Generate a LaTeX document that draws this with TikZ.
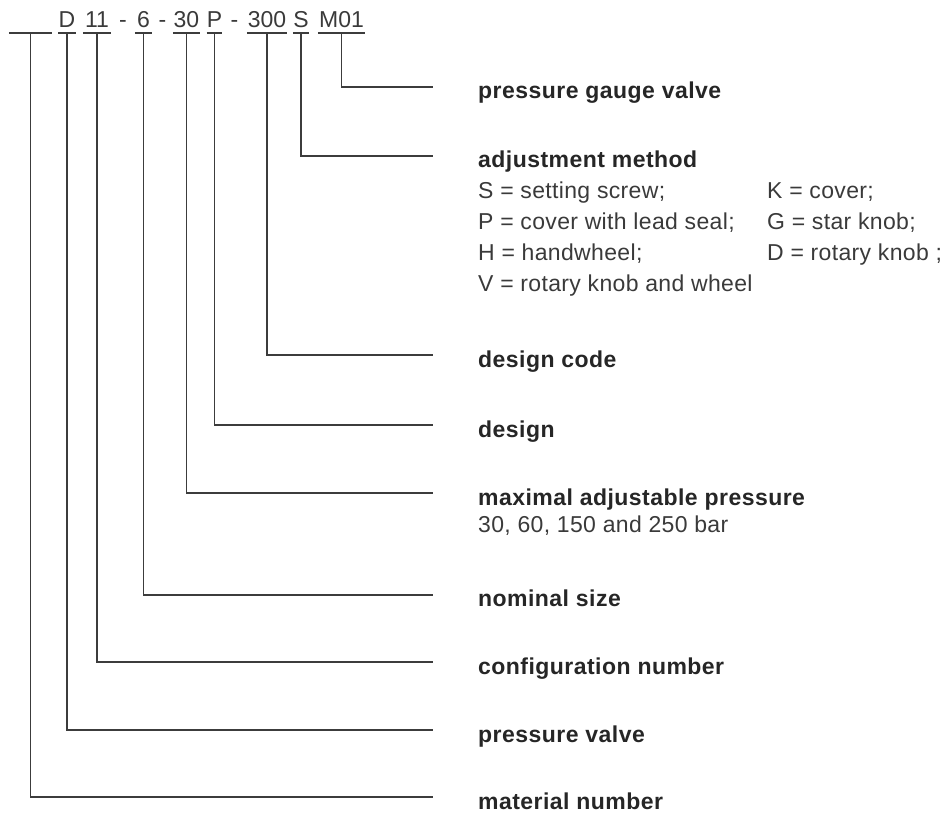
\documentclass[tikz,border=0pt]{standalone}
\usepackage{fontspec}
\setmainfont{Liberation Sans}
\newfontfamily\regf{Liberation Sans}[LetterSpace=1.5]
\newfontfamily\boldf{Liberation Sans Bold}[LetterSpace=2]
\newfontfamily\tokf{Liberation Sans}
\definecolor{txt}{HTML}{3A3A3A}
\definecolor{btxt}{HTML}{262626}
\definecolor{ln}{HTML}{3C3C3C}
\begin{document}
\begin{tikzpicture}[x=1pt,y=-1pt,
  tok/.style={inner sep=0pt,anchor=base,text=txt,font=\tokf\fontsize{23}{27}\selectfont},
  lbl/.style={inner sep=0pt,anchor=base west,text=btxt,font=\boldf\fontsize{23}{27}\selectfont},
  desc/.style={inner sep=0pt,anchor=base west,text=txt,font=\regf\fontsize{23}{27}\selectfont},
  conn/.style={draw=ln,line width=1.1pt},
  uline/.style={draw=ln,line width=1.1pt}]
\useasboundingbox (0,0) rectangle (950,816);
% code tokens
\node[tok,minimum width=43pt] (t0) at (30.5,28) {};
\node[tok,minimum width=16pt] (tD) at (67,28) {D};
\node[tok,minimum width=28pt] (t11) at (97,28) {11};
\node[tok] (d1) at (123,28) {-};
\node[tok,minimum width=17pt] (t6) at (143.5,28) {6};
\node[tok] (d2) at (162.5,28) {-};
\node[tok,minimum width=27pt] (t30) at (186.5,28) {30};
\node[tok,minimum width=15pt] (tP) at (214.5,28) {P};
\node[tok] (d3) at (234.5,28) {-};
\node[tok,minimum width=40pt] (t300) at (267,28) {300};
\node[tok,minimum width=16pt] (tS) at (301,28) {S};
\node[tok,minimum width=47pt] (tM) at (341.5,28) {M01};
\foreach \t in {t0,tD,t11,t6,t30,tP,t300,tS,tM}
  \draw[uline] ([yshift=-5pt]\t.base west) -- ([yshift=-5pt]\t.base east);
% line ends
\coordinate (eM) at (433,87);
\coordinate (eS) at (433,156);
\coordinate (e300) at (433,355);
\coordinate (eP) at (433,425);
\coordinate (e30) at (433,493);
\coordinate (e6) at (433,595);
\coordinate (e11) at (433,662);
\coordinate (eD) at (433,730);
\coordinate (e0) at (433,797);
% connectors
\draw[conn] ([yshift=-5pt]tM.base) |- (eM);
\draw[conn] ([yshift=-5pt]tS.base) |- (eS);
\draw[conn] ([yshift=-5pt]t300.base) |- (e300);
\draw[conn] ([yshift=-5pt]tP.base) |- (eP);
\draw[conn] ([yshift=-5pt]t30.base) |- (e30);
\draw[conn] ([yshift=-5pt]t6.base) |- (e6);
\draw[conn] ([yshift=-5pt]t11.base) |- (e11);
\draw[conn] ([yshift=-5pt]tD.base) |- (eD);
\draw[conn] ([yshift=-5pt]t0.base) |- (e0);
% labels
\node[lbl] (lM) at (478,99) {pressure gauge valve};
\node[lbl] (lS) at (478,167) {adjustment method};
\node[desc] (s1) at (478,198) {S = setting screw;};
\node[desc] (s2) at (767,198) {K = cover;};
\node[desc] (s3) at (478,229.5) {P = cover with lead seal;};
\node[desc] (s4) at (767,229.5) {G = star knob;};
\node[desc] (s5) at (478,260.5) {H = handwheel;};
\node[desc] (s6) at (767,260.5) {D = rotary knob ;};
\node[desc] (s7) at (478,291.5) {V = rotary knob and wheel};
\node[lbl] (l300) at (478,367) {design code};
\node[lbl] (lP) at (478,437) {design};
\node[lbl] (l30) at (478,505) {maximal adjustable pressure};
\node[desc] (p1) at (478,532.5) {30, 60, 150 and 250 bar};
\node[lbl] (l6) at (478,606) {nominal size};
\node[lbl] (l11) at (478,674) {configuration number};
\node[lbl] (lD) at (478,742) {pressure valve};
\node[lbl] (l0) at (478,809) {material number};
\end{tikzpicture}
\end{document}
